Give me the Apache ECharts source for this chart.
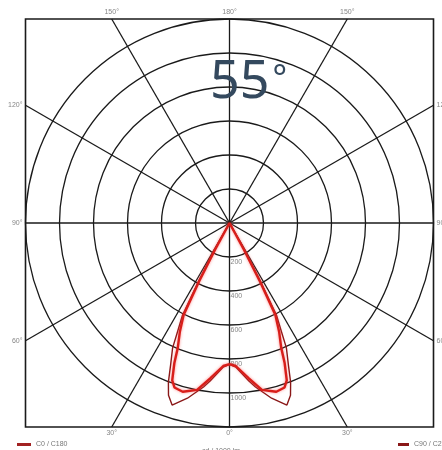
<!DOCTYPE html>
<html>
<head>
<meta charset="utf-8">
<script src="https://cdn.jsdelivr.net/npm/echarts@6/dist/echarts.min.js"></script>
<style>html,body{margin:0;padding:0;background:#fff}#c{width:442px;height:450px}</style>
</head>
<body>
<div id="c"></div>
<script>
// Data (cd / 1000 lm), gamma angles in degrees from nadir
const gammaC0 = [0, 2.5, 7, 11, 15.5, 18.5, 20, 21.5, 22.5, 24.5, 26.5, 27.5, 28.5, 30];
const intensityC0 = [830, 842, 920, 1000, 1030, 1020, 985, 885, 795, 705, 605, 390, 180, 0];
const gammaC90 = [0, 2.5, 7, 9, 13.5, 17.5, 19.5, 21, 22.5, 24.5, 25.5, 27, 28, 29, 30];
const intensityC90 = [832, 848, 937, 977, 1060, 1123, 1075, 1003, 906, 807, 712, 609, 390, 180, 0];
const ringValues = [200, 400, 600, 800, 1000];
const spokeAngles = [0, 30, 60, 90, 120, 150, 180];
const seriesNames = ['C0 / C180', 'C90 / C270'];
const titleNumber = '55';
const titleUnit = '°';
const unitText = 'cd / 1000 lm';
const maxI = 1200;

function loop(g, I) {
  const left = g.map((a, i) => [I[i], a]);
  const right = g.map((a, i) => [I[i], 360 - a]).reverse();
  return left.concat(right);
}

// spoke endpoints on the square frame (data units of cartesian overlay)
const spokeSeries = [];
const angleLabelData = [];
spokeAngles.forEach(function (g) {
  const r = g * Math.PI / 180;
  const s = Math.sin(r), c = Math.cos(r);
  const t = maxI / Math.max(Math.abs(s), Math.abs(c));
  const sides = (g === 0 || g === 180) ? [1] : [-1, 1];
  sides.forEach(function (side) {
    const x = side * s * t, y = -c * t;
    spokeSeries.push({
      type: 'line', xAxisIndex: 0, yAxisIndex: 0, silent: true, symbol: 'none', z: 1,
      lineStyle: { color: '#1a1a1a', width: 1.3 },
      data: [[0, 0], [Math.abs(x) < 1e-6 ? 0 : x, y]]
    });
    let pos;
    if (Math.abs(c) >= Math.abs(s) - 1e-9) pos = y > 0 ? 'top' : 'bottom';
    else pos = x < 0 ? 'left' : 'right';
    angleLabelData.push({ value: [Math.abs(x) < 1e-6 ? 0 : x, y], label: { position: pos }, name: g + '°' });
  });
});

const chart = echarts.init(document.getElementById('c'), null, { renderer: 'canvas' });
chart.setOption({
  animation: false,
  backgroundColor: '#fff',
  title: [
    { text: '{n|' + titleNumber + '}{d|' + titleUnit + '}', left: 205, top: 52,
      textStyle: { color: '#34495e', fontFamily: 'Noto Sans', fontWeight: 'normal',
        rich: {
          n: { fontSize: 52, fontWeight: 'normal', color: '#34495e', fontFamily: 'Noto Sans', verticalAlign: 'top', lineHeight: 60 },
          d: { fontSize: 34, fontWeight: 'normal', color: '#34495e', fontFamily: 'Noto Sans', verticalAlign: 'top', lineHeight: 60, padding: [6, 0, 0, 3] }
        } } },
    { text: unitText, left: 'center', top: 443, textStyle: { fontSize: 7, fontWeight: 'normal', color: '#777', fontFamily: 'Liberation Sans' } }
  ],
  legend: [
    { data: [seriesNames[0]], left: 12, top: 436, itemWidth: 14, itemHeight: 3, icon: 'rect', itemGap: 3,
      textStyle: { fontSize: 7, color: '#777', fontFamily: 'Liberation Sans' }, selectedMode: false },
    { data: [seriesNames[1]], left: 393, top: 436, itemWidth: 11, itemHeight: 3, icon: 'rect',
      textStyle: { fontSize: 7, color: '#777', fontFamily: 'Liberation Sans' }, selectedMode: false }
  ],
  grid: { left: 25.5, top: 19, width: 408, height: 408, show: true, borderColor: '#1a1a1a', borderWidth: 1.6, backgroundColor: 'transparent', containLabel: false },
  xAxis: { type: 'value', min: -maxI, max: maxI, show: false },
  yAxis: { type: 'value', min: -maxI, max: maxI, show: false },
  polar: { center: [229.5, 223], radius: 204 },
  angleAxis: { type: 'value', min: 0, max: 360, startAngle: 270, clockwise: true,
    axisLine: { show: false }, axisTick: { show: false }, axisLabel: { show: false }, splitLine: { show: false } },
  radiusAxis: { type: 'value', min: 0, max: maxI, interval: 200,
    axisLine: { show: false }, axisTick: { show: false }, axisLabel: { show: false },
    splitLine: { show: true, lineStyle: { color: '#1a1a1a', width: 1.3 } } },
  series: spokeSeries.concat([
    { type: 'scatter', xAxisIndex: 0, yAxisIndex: 0, symbolSize: 0, silent: true, z: 3,
      data: angleLabelData,
      label: { show: true, formatter: function (p) { return p.name; }, fontSize: 7, color: '#666', distance: 3, fontFamily: 'Liberation Sans' } },
    { type: 'scatter', xAxisIndex: 0, yAxisIndex: 0, symbolSize: 0, silent: true, z: 3,
      data: ringValues.map(v => ({ value: [0, -v], name: String(v) })),
      label: { show: true, position: 'right', distance: 1, offset: [0, 5], formatter: function (p) { return p.name; }, fontSize: 7, color: '#666', fontFamily: 'Liberation Sans' } },
    { name: seriesNames[1], type: 'line', coordinateSystem: 'polar', symbol: 'none', smooth: false, z: 4,
      lineStyle: { color: '#8a1818', width: 1.4 }, itemStyle: { color: '#8a1818' },
      data: loop(gammaC90, intensityC90) },
    { name: seriesNames[0], type: 'line', coordinateSystem: 'polar', symbol: 'none', smooth: false, z: 5,
      lineStyle: { color: '#d81e1a', width: 2.4, shadowBlur: 3, shadowColor: 'rgba(255,60,60,0.6)' }, itemStyle: { color: '#a22222' },
      data: loop(gammaC0, intensityC0) }
  ])
});
</script>
</body>
</html>
